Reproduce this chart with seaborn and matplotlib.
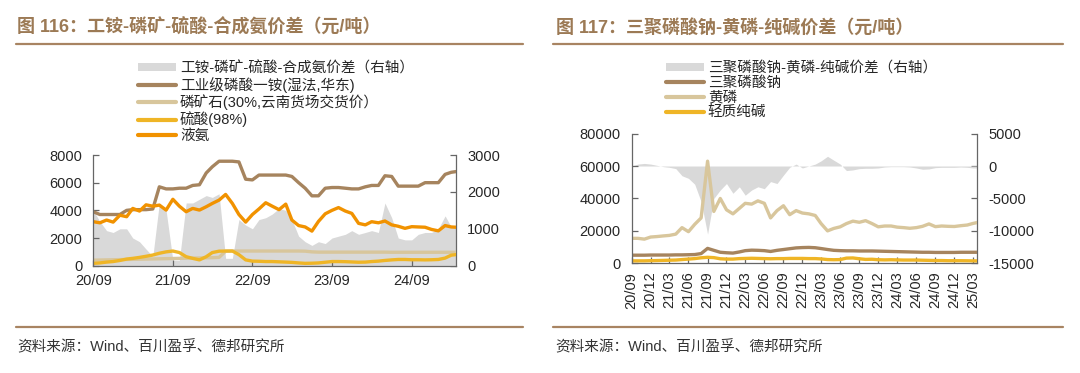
import pandas as pd
import matplotlib
matplotlib.use("Agg")
import matplotlib.pyplot as plt
import matplotlib.dates as mdates
from matplotlib.patches import Patch
from matplotlib.lines import Line2D
import seaborn as sns

# -----------------------------
# Data (monthly)
# -----------------------------
left_dates = list(pd.date_range("2020-09-01", "2025-03-01", freq="MS")) + [pd.Timestamp("2025-03-23")]

map_price = [3900, 3700, 3700, 3700, 3700, 4000, 4050, 4050, 4050, 4100,
             5700, 5550, 5550, 5600, 5600, 5800, 5850, 6700, 7150, 7550,
             7550, 7550, 7500, 6250, 6200, 6550, 6550, 6550, 6550, 6550,
             6450, 6000, 5600, 5050, 5050, 5600, 5650, 5650, 5600, 5550,
             5550, 5700, 5800, 5800, 6500, 6450, 5750, 5750, 5750, 5750,
             6000, 6000, 6000, 6600, 6750, 6800]
ammonia = [3180, 3100, 3300, 3150, 3650, 3540, 4140, 3950, 4400, 4300,
           4380, 4020, 4800, 4300, 3900, 4140, 4020, 4260, 4500, 4740,
           5150, 4500, 3700, 3150, 3700, 4100, 4550, 4300, 4050, 4450,
           3300, 2900, 2800, 2500, 3200, 3750, 4000, 4200, 3950, 3780,
           3060, 2950, 3180, 3100, 3230, 2950, 2850, 2700, 2820, 2800,
           2780, 2620, 2520, 2900, 2800, 2780]
sulfuric = [170, 200, 260, 300, 380, 480, 530, 600, 680, 770,
            900, 1000, 1060, 950, 650, 530, 420, 650, 950, 1050,
            1060, 1060, 800, 420, 330, 320, 300, 300, 280, 260,
            240, 200, 170, 180, 200, 250, 300, 300, 290, 270,
            250, 260, 300, 330, 380, 420, 450, 450, 430, 430,
            420, 430, 450, 550, 760, 800]
rock = [400, 410, 420, 430, 440, 450, 460, 470, 480, 490,
        500, 510, 520, 530, 540, 550, 560, 570, 580, 600,
        1050, 1060, 1060, 1060, 1060, 1060, 1060, 1060, 1060, 1060,
        1060, 1060, 1050, 1000, 980, 980, 980, 980, 980, 980,
        980, 980, 980, 980, 980, 970, 970, 970, 970, 970,
        970, 970, 970, 970, 970, 970]
map_spread = [1500, 1200, 950, 900, 1000, 1000, 750, 650, 450, 250,
              1700, 1500, 150, 150, 1700, 1700, 1800, 1900, 1850, 1950,
              200, 200, 1250, 1100, 1000, 1250, 1300, 1400, 1550, 1500,
              1250, 800, 650, 550, 650, 600, 750, 800, 850, 950,
              850, 900, 950, 900, 1700, 1300, 750, 700, 700, 850,
              900, 900, 1000, 1350, 1050, 1000]

right_dates = list(pd.date_range("2020-09-01", "2025-03-01", freq="MS")) + [pd.Timestamp("2025-03-20")]

stpp = [5000, 5000, 5000, 5100, 5100, 5100, 5100, 5200, 5200, 5300,
        5400, 6000, 9200, 8000, 6800, 6500, 6300, 7000, 7800, 8100,
        8000, 7800, 7300, 8000, 8500, 9000, 9500, 9700, 9800, 9600,
        9100, 8500, 8000, 7800, 7700, 7700, 7600, 7600, 7600, 7500,
        7400, 7300, 7200, 7100, 7000, 6900, 6800, 6800, 6700, 6700,
        6700, 6700, 6800, 6800, 6800, 6800]
phosphorus = [15400, 15400, 14900, 16200, 16500, 16900, 17200, 18000, 22000, 19500,
              24000, 28000, 63000, 32000, 40000, 33000, 30500, 33900, 37000, 36500,
              38500, 37000, 28000, 32500, 35500, 30000, 32500, 31000, 30500, 29500,
              24500, 20000, 21500, 22500, 24500, 26000, 25300, 26300, 24500, 22500,
              23000, 23000, 22300, 22000, 21600, 22000, 22800, 24300, 22600, 23000,
              22800, 22700, 23200, 23600, 24600, 25100]
soda = [1500, 1500, 1500, 1600, 1700, 1800, 1900, 2000, 2300, 2600,
        2900, 3400, 3700, 3500, 2800, 2600, 2600, 2900, 3000, 3100,
        3000, 2900, 2800, 2900, 2900, 3000, 3000, 3000, 2900, 2900,
        2700, 2300, 2200, 2300, 3200, 3300, 2800, 2400, 2500, 2200,
        2100, 2200, 2100, 2000, 2000, 2000, 1900, 1800, 1700, 1700,
        1600, 1600, 1600, 1550, 1500, 1500]
stpp_spread = [0, 300, 400, 300, 100, -100, -200, -400, -1500, -1900,
               -2800, -5500, -10500, -5000, -3700, -2700, -4200, -3200, -4500, -3700,
               -3200, -3500, -2400, -2700, -1400, -200, 300, -300, 0, 300,
               800, 1500, 900, 300, -700, -600, -400, -350, -350, -300,
               -150, -100, -100, -100, -150, -300, -500, -450, -250, -200,
               -200, -200, -150, -200, -300, -300]

# -----------------------------
# Style
# -----------------------------
sns.set_theme(style="white")
plt.rcParams["font.family"] = ["Liberation Sans", "Noto Sans CJK SC"]
plt.rcParams["axes.unicode_minus"] = False

BROWN = "#A6845E"
TAN = "#D8C69C"
GOLD = "#EFB526"
ORANGE = "#F19200"
GRAY = "#D9D9D9"
RULE = "#A88462"
TITLE = "#9C7A55"
SPINE = "#666666"
TXT = "#262626"
LW = 2.4

W, H = 1080, 373
fig = plt.figure(figsize=(W / 100, H / 100), dpi=100)


def fx(px):
    return px / W


def fy(py):
    return 1 - py / H


def style_axes(ax, ax2):
    ax.set_zorder(ax2.get_zorder() + 1)
    ax.patch.set_visible(False)
    for s in ["top", "right"]:
        ax.spines[s].set_visible(False)
    for s in ["top", "left", "bottom"]:
        ax2.spines[s].set_visible(False)
    for a, s in [(ax, "left"), (ax, "bottom"), (ax2, "right")]:
        a.spines[s].set_color(SPINE)
        a.spines[s].set_linewidth(0.9)
    ax.tick_params(axis="y", direction="in", length=4, width=0.9, color=SPINE,
                   labelsize=10.5, labelcolor=TXT, pad=8, left=True)
    ax.tick_params(axis="x", direction="in", length=4, width=0.9, color=SPINE,
                   labelsize=10.5, labelcolor=TXT, pad=6, bottom=True)
    ax2.tick_params(axis="y", direction="in", length=4, width=0.9, color=SPINE,
                    labelsize=10.5, labelcolor=TXT, pad=8, right=True)
    ax.set_xlabel("")
    ax.set_ylabel("")
    ax2.set_ylabel("")


# -----------------------------
# Left chart
# -----------------------------
df_l = pd.DataFrame({"date": left_dates, "map": map_price, "nh3": ammonia,
                     "h2so4": sulfuric, "rock": rock, "spread": map_spread})

axL = fig.add_axes([fx(93.3), fy(265.7), fx(456) - fx(93.3), fy(155) - fy(265.7)])
axL2 = axL.twinx()
axL2.fill_between(df_l["date"], 0, df_l["spread"], color=GRAY, lw=0)
for col, c in [("rock", TAN), ("h2so4", GOLD), ("map", BROWN), ("nh3", ORANGE)]:
    sns.lineplot(data=df_l, x="date", y=col, ax=axL, color=c, lw=LW, legend=False)
axL.set_xlim(left_dates[0], left_dates[-1])
axL.set_ylim(0, 8000)
axL.set_yticks([0, 2000, 4000, 6000, 8000])
axL2.set_ylim(0, 3000)
axL2.set_yticks([0, 1000, 2000, 3000])
axL.xaxis.set_major_locator(mdates.MonthLocator(bymonth=9))
axL.xaxis.set_major_formatter(mdates.DateFormatter("%y/%m"))
style_axes(axL, axL2)

# -----------------------------
# Right chart
# -----------------------------
df_r = pd.DataFrame({"date": right_dates, "stpp": stpp, "p4": phosphorus,
                     "soda": soda, "spread": stpp_spread})

axR = fig.add_axes([fx(631.7), fy(263.3), fx(977) - fx(631.7), fy(133.6) - fy(263.3)])
axR2 = axR.twinx()
axR2.fill_between(df_r["date"], 0, df_r["spread"], color=GRAY, lw=0)
for col, c in [("soda", GOLD), ("stpp", BROWN), ("p4", TAN)]:
    sns.lineplot(data=df_r, x="date", y=col, ax=axR, color=c, lw=LW, legend=False)
axR.set_xlim(right_dates[0], right_dates[-1])
axR.set_ylim(0, 80000)
axR.set_yticks([0, 20000, 40000, 60000, 80000])
axR2.set_ylim(-15000, 5000)
axR2.set_yticks([-15000, -10000, -5000, 0, 5000])
axR.xaxis.set_major_locator(mdates.MonthLocator(bymonth=[3, 6, 9, 12]))
axR.xaxis.set_major_formatter(mdates.DateFormatter("%y/%m"))
style_axes(axR, axR2)
axR.tick_params(axis="x", labelrotation=90)

# -----------------------------
# Legends
# -----------------------------
leg_l = [Patch(facecolor=GRAY, edgecolor="none", label="工铵-磷矿-硫酸-合成氨价差（右轴）"),
         Line2D([], [], color=BROWN, lw=3, label="工业级磷酸一铵(湿法,华东)"),
         Line2D([], [], color=TAN, lw=3, label="磷矿石(30%,云南货场交货价）"),
         Line2D([], [], color=GOLD, lw=3, label="硫酸(98%)"),
         Line2D([], [], color=ORANGE, lw=3, label="液氨")]
fig.legend(handles=leg_l, loc="upper left", bbox_to_anchor=(fx(138), fy(61)),
           frameon=False, fontsize=10.5, handlelength=2.6, handleheight=0.5,
           handletextpad=0.27, labelspacing=0.1, borderpad=0, borderaxespad=0,
           labelcolor=TXT)

leg_r = [Patch(facecolor=GRAY, edgecolor="none", label="三聚磷酸钠-黄磷-纯碱价差（右轴）"),
         Line2D([], [], color=BROWN, lw=3, label="三聚磷酸钠"),
         Line2D([], [], color=TAN, lw=3, label="黄磷"),
         Line2D([], [], color=GOLD, lw=3, label="轻质纯碱")]
fig.legend(handles=leg_r, loc="upper left", bbox_to_anchor=(fx(666), fy(61)),
           frameon=False, fontsize=10.5, handlelength=2.6, handleheight=0.5,
           handletextpad=0.27, labelspacing=0.05, borderpad=0, borderaxespad=0,
           labelcolor=TXT)

# -----------------------------
# Titles, rules and sources
# -----------------------------
fig.text(fx(17), fy(27.3), "图 116：工铵-磷矿-硫酸-合成氨价差（元/吨）", ha="left", va="center",
         fontsize=13, fontweight="bold", color=TITLE)
fig.text(fx(556), fy(27.3), "图 117：三聚磷酸钠-黄磷-纯碱价差（元/吨）", ha="left", va="center",
         fontsize=13, fontweight="bold", color=TITLE)

for x0, x1 in [(16, 522.7), (553.3, 1063)]:
    for yy in [44.3, 327]:
        fig.add_artist(Line2D([fx(x0), fx(x1)], [fy(yy), fy(yy)], color=RULE, lw=1.6,
                              transform=fig.transFigure))

for x0 in [17, 555]:
    fig.text(fx(x0), fy(346.7), "资料来源：Wind、百川盈孚、德邦研究所", ha="left", va="center",
             fontsize=10.5, color="#333333")

fig.savefig("out.png", dpi=100)
